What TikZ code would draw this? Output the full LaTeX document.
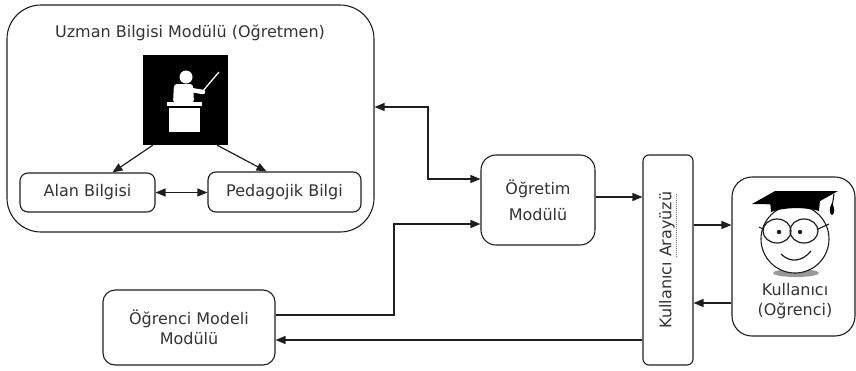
\documentclass[tikz,border=0pt]{standalone}
\usepackage{fontspec}
\setmainfont{DejaVu Sans}
\usepackage{graphicx}
\usetikzlibrary{arrows.meta}
\definecolor{ink}{HTML}{1E1E1E}
\definecolor{txt}{HTML}{333333}
% dotted underline used under a word
\newcommand\dotmark[1]{\setbox0\hbox{#1}\vtop{\copy0\nointerlineskip\kern1.6pt\hbox to\wd0{\color{black!55}\leaders\hbox to 2pt{\hss\rule{1pt}{0.7pt}\hss}\hfill}}}
\begin{document}
\begin{tikzpicture}[x=1pt,y=-1pt,
  txtf/.style={font=\fontsize{16}{20}\selectfont, text=txt},
  box/.style={draw=ink, line width=1.1pt, align=center, inner sep=0pt, txtf},
  link/.style={draw=ink, line width=1.2pt},
  tip/.style={-{Triangle[length=10pt,width=8pt]}},
  both/.style={{Triangle[length=10pt,width=8pt]}-{Triangle[length=10pt,width=8pt]}}]
\useasboundingbox (0,0) rectangle (856,370);

% expert module
\node[box, rounded corners=34pt, minimum width=367pt, minimum height=227pt] (uzman) at (190.5,118.5) {};
\node[txtf] (title) at (190,33) {Uzman Bilgisi Modülü (Oğretmen)};
\node[fill=black, minimum width=85pt, minimum height=90pt, inner sep=0pt] (teach) at (185.5,100) {};
\node[box, rounded corners=8pt, minimum width=135pt, minimum height=39pt] (alan) at (87.5,192.5) {Alan Bilgisi};
\node[box, rounded corners=8pt, minimum width=153pt, minimum height=40pt] (ped) at (284.5,192) {Pedagojik Bilgi};

% teacher pictogram
\fill[white] (186,77) circle (6.5);
\fill[white, rounded corners=3pt] (173,103) -- (174,84) -- (193,84) -- (194,103) -- cycle;
\draw[white, line width=4.5pt, line cap=round] (191,90) -- (203,92);
\draw[white, line width=1.3pt] (202,92) -- (219,72);
\fill[white] (167,102) rectangle (202,106);
\fill[white] (169,108) rectangle (200,132);

% other modules
\node[box, rounded corners=15pt, minimum width=114pt, minimum height=90pt, font=\fontsize{16}{26}\selectfont] (ogretim) at (538,200) {Öğretim\\Modülü};
\node[box, rounded corners=6pt, minimum width=50pt, minimum height=210pt] (arayuz) at (668,260) {\rotatebox{90}{Kullanıcı \dotmark{Arayüzü}}};
\node[box, rounded corners=20pt, minimum width=123pt, minimum height=159pt] (kullanici) at (793.5,256.5) {};
\node[txtf, align=center, inner sep=0pt] (ktext) at (795,301) {Kullanıcı\\(Oğrenci)};
\node[box, rounded corners=12pt, minimum width=172pt, minimum height=75pt] (model) at (189,327.5) {\strut Öğrenci Modeli\\Modülü};

% student face
\fill[black!40] (796,273) ellipse (23 and 4);
\draw[ink, line width=1.1pt, fill=white] (795,239) circle (34);
\draw[ink, line width=1.2pt] (777,231) ellipse (14 and 12);
\draw[ink, line width=1.2pt] (804,231) ellipse (14 and 12);
\fill[ink] (779,232) circle (2.2);
\fill[ink] (800,232) circle (2.2);
\draw[ink, line width=1.1pt] (763,229) -- (759,227);
\draw[ink, line width=1.1pt] (818,229) -- (829,224);
\draw[ink, line width=1.2pt] (781,254) .. controls (790,263) and (802,262) .. (811,251);
\fill[black] (770,200) -- (820,200) -- (819,211) .. controls (805,207) and (785,207) .. (771,212) -- cycle;
\fill[black] (752,204) -- (775,191) -- (838,191) -- (813,205) -- cycle;
\draw[black, line width=1pt] (834,194) -- (832,207);
\fill[black] (832,203) .. controls (835,208) and (835,214) .. (832,215) .. controls (829,214) and (829,208) .. (832,203);

% connectors
\coordinate (j1) at (428,107);
\coordinate (j2) at (428,179);
\coordinate (j3) at (394,315);
\coordinate (j4) at (394,224);
\coordinate (j5) at (610,197);
\coordinate (j6) at (710,225);
\coordinate (j7) at (710,303);
\coordinate (j8) at (610,340);
\draw[link, both] (uzman.east |- j1) -- (j1) -- (j2) -- (ogretim.west |- j2);
\draw[link, tip] (model.east |- j3) -- (j3) -- (j4) -- (ogretim.west |- j4);
\draw[link, tip] (ogretim.east |- j5) -- (arayuz.west |- j5);
\draw[link, tip] (arayuz.east |- j6) -- (kullanici.west |- j6);
\draw[link, tip] (kullanici.west |- j7) -- (arayuz.east |- j7);
\draw[link, tip] (arayuz.west |- j8) -- (model.east |- j8);
\draw[link, both] (alan.east) -- (ped.west |- alan.east);
\draw[link, tip] ([xshift=10pt]teach.south west) -- ([xshift=25pt]alan.north);
\draw[link, tip] ([xshift=-11pt]teach.south east) -- ([xshift=-18pt]ped.north);
\end{tikzpicture}
\end{document}
